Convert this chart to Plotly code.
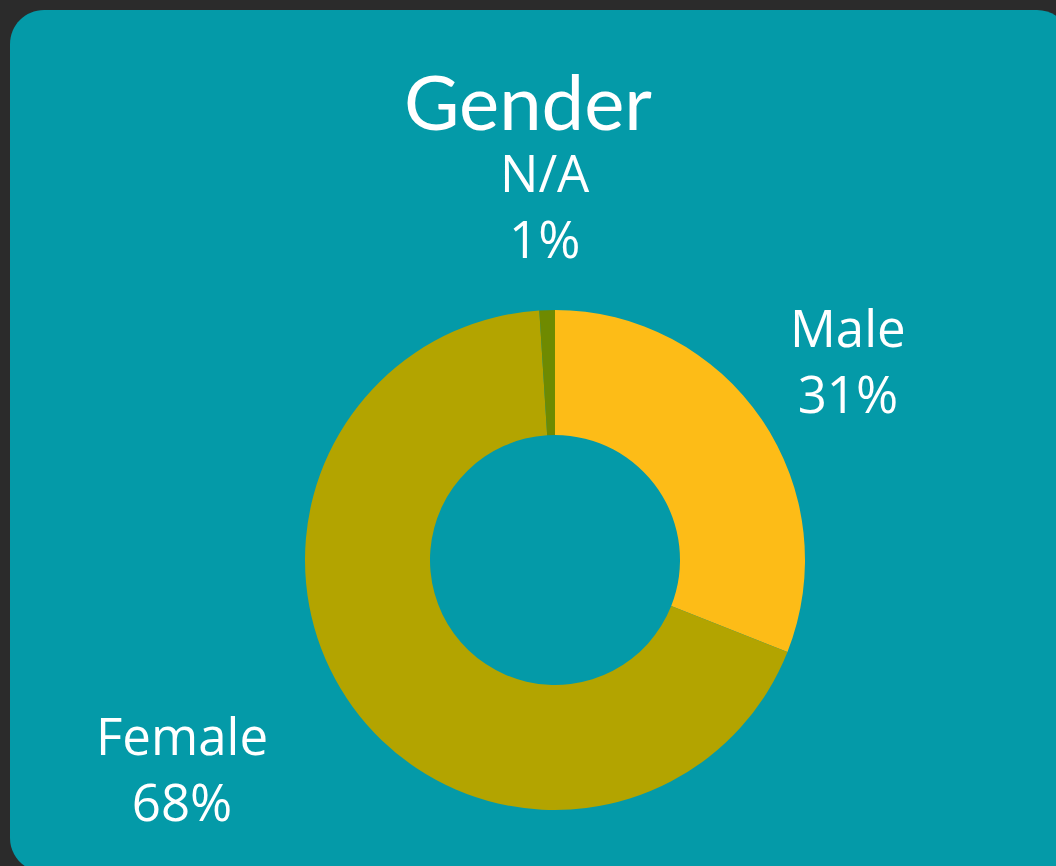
import plotly.graph_objects as go

categories = ["Male", "Female", "N/A"]
values = [31, 68, 1]
colors = ["#FDBC17", "#B3A400", "#6F8A00"]

W, H = 1056, 866
BG = "#2b2b2b"
CARD = "#049aa8"

def px(x):
    return x / W

def py(y):
    return 1 - y / H

# rounded card path (paper coords)
def card_path(x0, y0, x1, y1, r):
    k = 0.5523 * r
    pts = []
    pts.append(f"M {px(x0 + r)},{py(y0)}")
    pts.append(f"L {px(x1 - r)},{py(y0)}")
    pts.append(f"C {px(x1 - r + k)},{py(y0)} {px(x1)},{py(y0 + r - k)} {px(x1)},{py(y0 + r)}")
    pts.append(f"L {px(x1)},{py(y1 - r)}")
    pts.append(f"C {px(x1)},{py(y1 - r + k)} {px(x1 - r + k)},{py(y1)} {px(x1 - r)},{py(y1)}")
    pts.append(f"L {px(x0 + r)},{py(y1)}")
    pts.append(f"C {px(x0 + r - k)},{py(y1)} {px(x0)},{py(y1 - r + k)} {px(x0)},{py(y1 - r)}")
    pts.append(f"L {px(x0)},{py(y0 + r)}")
    pts.append(f"C {px(x0)},{py(y0 + r - k)} {px(x0 + r - k)},{py(y0)} {px(x0 + r)},{py(y0)}")
    pts.append("Z")
    return " ".join(pts)

fig = go.Figure()
fig.add_trace(go.Pie(
    labels=categories,
    values=values,
    marker=dict(colors=colors, line=dict(width=0)),
    hole=0.5,
    sort=False,
    direction="clockwise",
    rotation=0,
    textinfo="none",
    showlegend=False,
    domain=dict(x=[px(305), px(805)], y=[py(810), py(310)]),
))

total = sum(values)
label_pos = {"Male": (848, 360), "Female": (182, 768), "N/A": (545, 205)}
annotations = []
for c, v in zip(categories, values):
    x, y = label_pos[c]
    annotations.append(dict(
        x=px(x), y=py(y), xref="paper", yref="paper",
        text=f"{c}<br>{round(v / total * 100)}%",
        showarrow=False, xanchor="center", yanchor="middle",
        font=dict(family="Open Sans", size=51, color="white"),
    ))
annotations.append(dict(
    x=px(528), y=py(101), xref="paper", yref="paper",
    text="Gender", showarrow=False, xanchor="center", yanchor="middle",
    font=dict(family="Lato", size=76, color="white"),
))

fig.update_layout(
    width=W, height=H,
    margin=dict(l=0, r=0, t=0, b=0),
    paper_bgcolor=BG,
    plot_bgcolor=BG,
    shapes=[dict(type="path", xref="paper", yref="paper",
                 path=card_path(10, 10, 1071, 872, 34),
                 fillcolor=CARD, line=dict(width=0), layer="below")],
    annotations=annotations,
)

fig.write_html(
    "out.html",
    config={"displayModeBar": False},
    post_script="document.body.style.margin='0';document.body.style.overflow='hidden';document.body.style.background='#2b2b2b';",
)
